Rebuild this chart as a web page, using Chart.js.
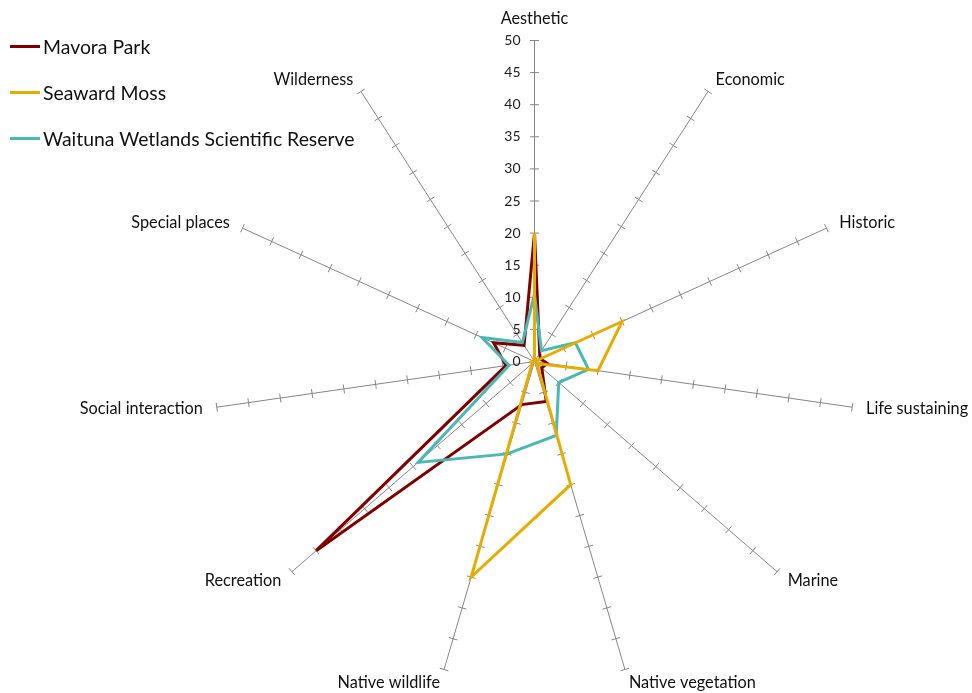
<!DOCTYPE html>
<html>
<head>
<meta charset="utf-8">
<script src="https://cdn.jsdelivr.net/npm/chart.js@4"></script>
<style>
  html, body { margin: 0; padding: 0; background: #ffffff; }
  #wrap { position: relative; width: 972px; height: 693px; }
  #chart { position: absolute; left: 0; top: 0; }
  #legend { position: absolute; left: 10px; top: 0; font-family: Lato, "Open Sans", sans-serif; font-size: 19.4px; color: #111; }
  .item { position: absolute; left: 0; white-space: nowrap; display: flex; align-items: center; }
  .swatch { width: 30px; height: 3px; margin-right: 3px; }
</style>
</head>
<body>
<div id="wrap">
  <canvas id="chart" width="972" height="693"></canvas>
  <div id="legend"></div>
</div>
<script>
// Value categories around the radar, clockwise from the top
const categories = [
  'Aesthetic', 'Economic', 'Historic', 'Life sustaining', 'Marine',
  'Native vegetation', 'Native wildlife', 'Recreation',
  'Social interaction', 'Special places', 'Wilderness'
];

// Scores per site, in category order
const mavoraPark = [20, 1.5, 1, 2, 1.5, 6.5, 7, 45, 4.5, 7, 3];
const seawardMoss = [20, 0, 15, 10, 0.5, 20, 35, 0.5, 0.5, 0, 0];
const waitunaWetlands = [10.5, 2, 7, 8.5, 5, 12, 15, 24, 4, 9, 3.5];

const seriesNames = ['Mavora Park', 'Seaward Moss', 'Waituna Wetlands Scientific Reserve'];
const seriesColors = ['#800000', '#E6AD00', '#4BB8B4'];

// Radial axis tick labels
const tickValues = [0, 5, 10, 15, 20, 25, 30, 35, 40, 45, 50];

const AXIS_GREY = '#868686';
const LABEL_FONT = '16.3px Lato, "Open Sans", sans-serif';
const TICK_FONT = '14px Lato, "Open Sans", sans-serif';

// Spoke tick marks, the value labels on the vertical spoke and the category names
const spokeDecor = {
  id: 'spokeDecor',
  beforeDatasetsDraw(chart) {
    const scale = chart.scales.r;
    const ctx = chart.ctx;
    ctx.save();
    ctx.strokeStyle = AXIS_GREY;
    ctx.lineWidth = 1;
    const half = 4.5;
    categories.forEach((name, i) => {
      const a = scale.getIndexAngle(i) - Math.PI / 2;
      const px = -Math.sin(a), py = Math.cos(a);
      tickValues.forEach(v => {
        if (v === 0) return;
        const p = scale.getPointPositionForValue(i, v);
        ctx.beginPath();
        ctx.moveTo(p.x - px * half, p.y - py * half);
        ctx.lineTo(p.x + px * half, p.y + py * half);
        ctx.stroke();
      });
    });

    // value labels to the left of the top spoke
    ctx.fillStyle = '#222';
    ctx.font = TICK_FONT;
    ctx.textAlign = 'right';
    ctx.textBaseline = 'middle';
    tickValues.forEach(v => {
      const p = scale.getPointPositionForValue(0, v);
      ctx.fillText(String(v), p.x - 14, p.y);
    });

    // category names just beyond the spoke ends
    ctx.font = LABEL_FONT;
    ctx.fillStyle = '#111';
    categories.forEach((name, i) => {
      const p = scale.getPointPosition(i, scale.drawingArea + 14);
      const s = Math.sin(scale.getIndexAngle(i));
      ctx.textAlign = s > 0.1 ? 'left' : (s < -0.1 ? 'right' : 'center');
      ctx.textBaseline = (i === 0) ? 'bottom' : 'middle';
      ctx.fillText(name, p.x, p.y);
    });
    ctx.restore();
  }
};

const datasets = [mavoraPark, seawardMoss, waitunaWetlands].map((vals, k) => ({
  label: seriesNames[k],
  data: vals,
  borderColor: seriesColors[k],
  backgroundColor: seriesColors[k],
  borderWidth: 3,
  pointRadius: 0,
  pointHoverRadius: 0,
  fill: false,
  tension: 0,
  order: [3, 1, 2][k]
}));

new Chart(document.getElementById('chart'), {
  type: 'radar',
  data: { labels: categories, datasets },
  options: {
    responsive: false,
    animation: false,
    events: [],
    plugins: { legend: { display: false }, tooltip: { enabled: false } },
    scales: {
      r: {
        min: 0,
        max: 50,
        ticks: { stepSize: 5, display: false },
        grid: { display: false },
        angleLines: { display: true, color: AXIS_GREY, lineWidth: 1 },
        pointLabels: { display: false },
        afterFit(scale) {
          scale.xCenter = 534.5;
          scale.yCenter = 361.5;
          scale.drawingArea = 321;
        }
      }
    }
  },
  plugins: [spokeDecor]
});

// Legend: a short coloured line and the site name, stacked down the top-left corner
const legend = document.getElementById('legend');
seriesNames.forEach((name, k) => {
  const item = document.createElement('div');
  item.className = 'item';
  item.style.top = (46.5 + k * 46 - 12) + 'px';
  item.style.height = '24px';
  const sw = document.createElement('span');
  sw.className = 'swatch';
  sw.style.background = seriesColors[k];
  const tx = document.createElement('span');
  tx.textContent = name;
  item.appendChild(sw);
  item.appendChild(tx);
  legend.appendChild(item);
});
</script>
</body>
</html>
